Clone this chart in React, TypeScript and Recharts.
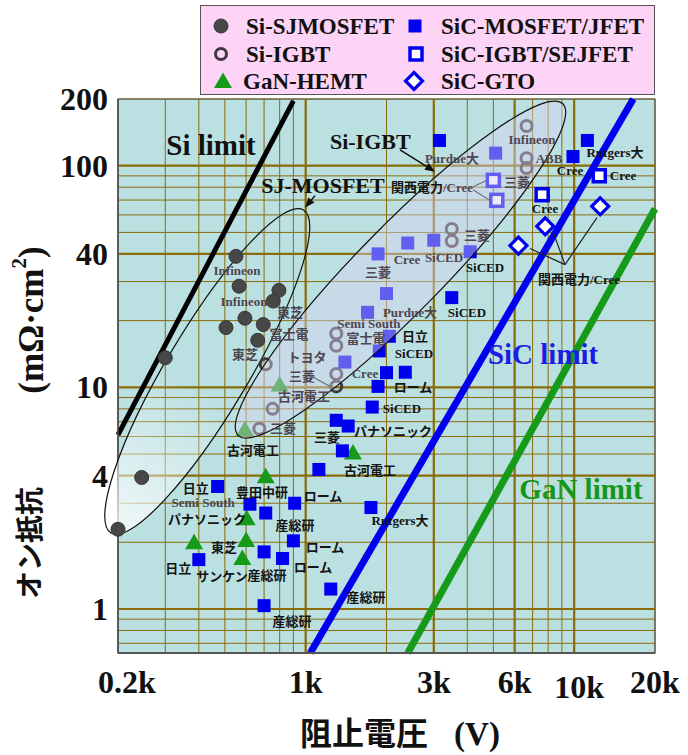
import {
  CartesianGrid,
  ReferenceArea,
  ReferenceDot,
  ReferenceLine,
  Scatter,
  ScatterChart,
  XAxis,
  YAxis,
} from "recharts";

// blocking voltage (V) vs. specific on-resistance (mΩ·cm²)
const siSjMosfet: [number, number][] = [
  [300, 13.6], [550, 39], [565, 28.6], [795, 27.4], [757, 24.5], [594, 20.5],
  [695, 19.2], [505, 18.6], [663, 16.3], [245, 3.92], [200, 2.29],
];

const siIgbt: [number, number][] = [
  [710, 12.7], [1300, 17.5], [1300, 15.4], [1300, 11.5], [1300, 10.1], [753, 8.0],
  [672, 6.5], [3500, 51.8], [3500, 45.7], [6650, 151], [6650, 108], [6650, 97.7],
];

const ganHemt: [number, number][] = [
  [800, 10.3], [594, 6.47], [1500, 5.08], [710, 3.97], [603, 2.57], [600, 2.05],
  [384, 2.0], [581, 1.7],
];

const sicMosfetJfet: [number, number][] = [
  [3150, 130], [5100, 114], [11200, 130], [9900, 110], [2400, 44.8], [3000, 46.1],
  [1860, 40], [4100, 40.9], [2000, 26.5], [3500, 25.4], [1700, 21.8], [2050, 17.0],
  [1880, 14.6], [1400, 13.0], [2000, 11.65], [2350, 11.7], [1860, 10.1], [1770, 8.15],
  [1300, 7.1], [1440, 6.69], [1370, 5.17], [1120, 4.26], [470, 3.57], [620, 2.97],
  [710, 2.71], [910, 3.0], [900, 2.03], [700, 1.81], [820, 1.69], [400, 1.67],
  [700, 1.035], [1750, 2.87], [1240, 1.23],
];

const sicIgbtSejfet: [number, number][] = [
  [5000, 85.9], [5150, 69.8], [7600, 74], [12400, 90.1],
];

const sicGto: [number, number][] = [[12500, 65.6], [7800, 53.3], [6200, 43.6]];

// material limit lines, two ends each
const siLimit: [number, number][] = [[200, 6.1], [900, 196]];
const sicLimit: [number, number][] = [[1040, 0.633], [16600, 200]];
const ganLimit: [number, number][] = [[2400, 0.633], [20000, 64]];

const xTickValues = [200, 1000, 3000, 6000, 10000, 20000];
const xTickLabels = ["0.2k", "1k", "3k", "6k", "10k", "20k"];
const xGridValues = [300, 400, 500, 600, 700, 800, 900, 2000, 4000, 5000, 7000, 8000, 9000];
const yTickValues = [1, 4, 10, 40, 100, 200];
const yTickLabels = ["1", "4", "10", "40", "100", "200"];
const yGridValues = [0.7, 0.8, 0.9, 2, 3, 5, 6, 7, 8, 9, 20, 30, 50, 60, 70, 80, 90];

// annotation text: [text, voltage, resistance, tone]
const pointLabels: [string, number, number, "dark" | "muted"][] = [
  ["Purdue大", 3508, 107.5, "muted"],
  ["三菱", 6124, 83.8, "muted"],
  ["Infineon", 6966, 131, "muted"],
  ["ABB", 8060, 107.5, "muted"],
  ["Cree", 9650, 94.9, "dark"],
  ["Rutgers大", 14190, 114.4, "dark"],
  ["Cree", 15200, 90.2, "dark"],
  ["Cree", 7788, 64.0, "dark"],
  ["関西電力/Cree", 10420, 30.7, "dark"],
  ["三菱", 4346, 48.4, "muted"],
  ["Cree", 2384, 37.7, "muted"],
  ["SiCED", 3276, 38.5, "muted"],
  ["SiCED", 4654, 34.7, "dark"],
  ["三菱", 1859, 33.0, "muted"],
  ["SiCED", 3988, 21.8, "dark"],
  ["Purdue大", 2446, 21.8, "muted"],
  ["Semi South", 1721, 19.4, "muted"],
  ["日立", 2554, 16.97, "dark"],
  ["富士電", 1677, 16.6, "muted"],
  ["SiCED", 2532, 14.2, "dark"],
  ["Cree", 1663, 11.56, "muted"],
  ["ローム", 2510, 10.0, "dark"],
  ["SiCED", 2284, 8.04, "dark"],
  ["パナソニック", 2114, 6.34, "dark"],
  ["三菱", 1201, 5.95, "dark"],
  ["古河電工", 1736, 4.23, "dark"],
  ["トヨタ", 1011, 13.65, "muted"],
  ["三菱", 969, 11.2, "muted"],
  ["古河電工", 986, 9.11, "muted"],
  ["三菱", 823, 6.54, "muted"],
  ["古河電工", 637, 5.2, "dark"],
  ["東芝", 874, 21.8, "muted"],
  ["富士電", 867, 17.3, "muted"],
  ["東芝", 594, 14.1, "muted"],
  ["Infineon", 555, 33.65, "muted"],
  ["Infineon", 589, 24.4, "muted"],
  ["Semi South", 415, 3.03, "muted"],
  ["日立", 390, 3.51, "dark"],
  ["豊田中研", 688, 3.37, "dark"],
  ["パナソニック", 429, 2.54, "dark"],
  ["ローム", 1160, 3.23, "dark"],
  ["産総研", 913, 2.39, "dark"],
  ["ローム", 1180, 1.9, "dark"],
  ["ローム", 1065, 1.546, "dark"],
  ["東芝", 496, 1.9, "dark"],
  ["日立", 335, 1.53, "dark"],
  ["サンケン", 488, 1.408, "dark"],
  ["産総研", 718, 1.42, "dark"],
  ["Rutgers大", 2246, 2.52, "dark"],
  ["産総研", 1677, 1.13, "dark"],
  ["産総研", 889, 0.874, "dark"],
];

const limitLabels: [string, number, number, string][] = [
  ["Si limit", 444, 124, "#111111"],
  ["SiC limit", 7660, 14.1, "#1c1ce6"],
  ["GaN limit", 10600, 3.47, "#16961b"],
];

const calloutLabels: [string, number, number][] = [
  ["Si-IGBT", 1740, 128],
  ["SJ-MOSFET", 1160, 81.3],
];

// [from V, from R, to V, to R]
const arrows: [number, number, number, number][] = [
  [2246, 118, 3032, 94],
  [1083, 73.3, 994, 64.7],
];

const leaders: [number, number, number, number][] = [
  [4200, 80.4, 4776, 86.5],
  [4200, 78.0, 4860, 69.6],
  [9244, 35.8, 6848, 42.3],
  [9244, 35.8, 8340, 50.4],
  [9244, 35.8, 12160, 58.3],
  [1065, 11.1, 1253, 10.0],
];

const SERIF = '"Liberation Serif", "Times New Roman", "Noto Sans CJK JP", serif';
const CJK = '"Noto Sans CJK JP", "Noto Sans CJK SC", sans-serif';
const GRID = "#8a6c08";
const BLUE = "#0000f0";
const GREEN = "#169a19";

const toPoints = (rows: [number, number][]) => rows.map(([v, r]) => ({ v, r }));

function SolidCircle({ cx, cy }: any) {
  return <circle cx={cx} cy={cy} r={7} fill="#474747" stroke="#383838" strokeWidth={1} />;
}

function RingCircle({ cx, cy }: any) {
  return <circle cx={cx} cy={cy} r={5.5} fill="none" stroke="#43373f" strokeWidth={3} />;
}

function Triangle({ cx, cy }: any) {
  return (
    <polygon
      points={`${cx},${cy - 8.5} ${cx + 9},${cy + 7} ${cx - 9},${cy + 7}`}
      fill={GREEN}
    />
  );
}

function SolidSquare({ cx, cy }: any) {
  return <rect x={cx - 6.5} y={cy - 6.5} width={13} height={13} fill={BLUE} />;
}

function OpenSquare({ cx, cy }: any) {
  return (
    <rect x={cx - 6} y={cy - 6} width={12} height={12} fill="#ffffff" stroke={BLUE} strokeWidth={3.5} />
  );
}

function Diamond({ cx, cy }: any) {
  return (
    <polygon
      points={`${cx},${cy - 8.5} ${cx + 8.5},${cy} ${cx},${cy + 8.5} ${cx - 8.5},${cy}`}
      fill="#ffffff"
      stroke={BLUE}
      strokeWidth={3.2}
    />
  );
}

function SjRegion({ cx, cy }: any) {
  return (
    <ellipse
      cx={cx}
      cy={cy}
      rx={188}
      ry={41}
      transform={`rotate(-59.2 ${cx} ${cy})`}
      fill="url(#sjFade)"
      stroke="#111"
      strokeWidth={1.2}
    />
  );
}

function IgbtRegion({ cx, cy }: any) {
  return (
    <ellipse
      cx={cx}
      cy={cy}
      rx={232}
      ry={43}
      transform={`rotate(-45.6 ${cx} ${cy})`}
      fill="#d6d2ee"
      fillOpacity={0.45}
      stroke="#111"
      strokeWidth={1.2}
    />
  );
}

function Arrow({ x1, y1, x2, y2 }: any) {
  const a = Math.atan2(y2 - y1, x2 - x1);
  const bx = x2 - 10 * Math.cos(a);
  const by = y2 - 10 * Math.sin(a);
  const px = -Math.sin(a) * 4;
  const py = Math.cos(a) * 4;
  return (
    <g>
      <line x1={x1} y1={y1} x2={bx} y2={by} stroke="#111" strokeWidth={1.5} />
      <polygon points={`${x2},${y2} ${bx + px},${by + py} ${bx - px},${by - py}`} fill="#111" />
    </g>
  );
}

function VoltageTick({ x, y, payload }: any) {
  const i = xTickValues.indexOf(payload.value);
  if (i < 0) return <g />;
  const shift = payload.value === 200 ? 9 : payload.value === 10000 ? 5 : 0;
  const drop = payload.value === 10000 ? 45 : 40;
  return (
    <text x={x + shift} y={y + drop} textAnchor="middle" fontFamily={SERIF} fontWeight="bold" fontSize={32} fill="#111">
      {xTickLabels[i]}
    </text>
  );
}

function ResistanceTick({ x, y, payload }: any) {
  const i = yTickValues.indexOf(payload.value);
  if (i < 0) return <g />;
  return (
    <text x={x - 10} y={y + 11} textAnchor="end" fontFamily={SERIF} fontWeight="bold" fontSize={32} fill="#111">
      {yTickLabels[i]}
    </text>
  );
}

function XTitle({ viewBox }: any) {
  const top = viewBox?.y ?? 653;
  return (
    <text x={400} y={top + 92} textAnchor="middle" fontWeight="bold" fill="#111">
      <tspan fontFamily={CJK} fontSize={32}>阻止電圧</tspan>
      <tspan fontFamily={SERIF} fontSize={33} dx={26}>(V)</tspan>
    </text>
  );
}

function YTitle() {
  return (
    <g fontWeight="bold" fill="#111">
      <text
        x={0}
        y={0}
        transform="translate(28 543) rotate(-90)"
        textAnchor="middle"
        dominantBaseline="central"
        fontFamily={CJK}
        fontSize={28}
      >
        オン抵抗
      </text>
      <text
        x={0}
        y={0}
        transform="translate(31 320) rotate(-90)"
        textAnchor="middle"
        dominantBaseline="central"
        fontFamily={SERIF}
        fontSize={35}
      >
        <tspan>(mΩ·cm</tspan>
        <tspan fontSize={21} dy={-12}>2</tspan>
        <tspan dy={12}>)</tspan>
      </text>
    </g>
  );
}

function LegendBox() {
  const rows = [20, 48, 75];
  return (
    <div
      style={{
        position: "absolute",
        left: 200,
        top: 5,
        width: 455,
        height: 90,
        background: "#fdd4f6",
        border: "1.5px solid #555",
        boxSizing: "border-box",
      }}
    >
      <svg width={452} height={87} style={{ display: "block" }}>
        <g fontFamily={SERIF} fontWeight="bold" fontSize={23} fill="#111">
          <SolidCircle cx={20} cy={rows[0]} />
          <text x={45} y={rows[0] + 8}>Si-SJMOSFET</text>
          <RingCircle cx={20} cy={rows[1]} />
          <text x={45} y={rows[1] + 8}>Si-IGBT</text>
          <Triangle cx={22} cy={rows[2]} />
          <text x={42} y={rows[2] + 8}>GaN-HEMT</text>
          <SolidSquare cx={214} cy={rows[0]} />
          <text x={240} y={rows[0] + 8}>SiC-MOSFET/JFET</text>
          <OpenSquare cx={215} cy={rows[1]} />
          <text x={240} y={rows[1] + 8}>SiC-IGBT/SEJFET</text>
          <Diamond cx={213} cy={rows[2]} />
          <text x={240} y={rows[2] + 8}>SiC-GTO</text>
        </g>
      </svg>
    </div>
  );
}

export default function App() {
  const xTicks = [...xTickValues, ...xGridValues].sort((a, b) => a - b);
  const yTicks = [...yTickValues, ...yGridValues].sort((a, b) => a - b);

  return (
    <div style={{ position: "relative", width: 688, height: 755 }}>
      <style>{"body{margin:0}"}</style>
      <ScatterChart
        width={688}
        height={755}
        margin={{ top: 99, right: 33, bottom: 42, left: 8 }}
      >
        <defs>
          <linearGradient id="sjFade" x1="0" y1="0" x2="1" y2="0">
            <stop offset="0%" stopColor="#ffffff" stopOpacity={0.8} />
            <stop offset="45%" stopColor="#ffffff" stopOpacity={0} />
          </linearGradient>
        </defs>

        <CartesianGrid stroke={GRID} strokeWidth={1} fill="#bbe0e2" fillOpacity={1} />

        <XAxis
          type="number"
          dataKey="v"
          scale="log"
          domain={[200, 20000]}
          ticks={xTicks}
          interval={0}
          height={60}
          tickSize={0}
          tickMargin={0}
          tickLine={false}
          axisLine={{ stroke: "#555", strokeWidth: 2 }}
          tick={<VoltageTick />}
          label={<XTitle />}
        />
        <YAxis
          type="number"
          dataKey="r"
          scale="log"
          domain={[0.633, 200]}
          ticks={yTicks}
          interval={0}
          width={110}
          tickSize={0}
          tickMargin={0}
          tickLine={false}
          axisLine={{ stroke: "#555", strokeWidth: 1.5 }}
          tick={<ResistanceTick />}
          label={<YTitle />}
        />

        {xTickValues.slice(1, -1).map((v) => (
          <ReferenceLine key={`gx${v}`} x={v} stroke={GRID} strokeWidth={2.2} />
        ))}
        {yTickValues.slice(0, -1).map((r) => (
          <ReferenceLine key={`gy${r}`} y={r} stroke={GRID} strokeWidth={2.2} />
        ))}

        <ReferenceDot x={430} y={11.8} ifOverflow="visible" shape={(p: any) => <SjRegion {...p} />} />

        <ReferenceLine
          segment={siLimit.map(([x, y]) => ({ x, y }))}
          stroke="#000"
          strokeWidth={5}
          ifOverflow="visible"
        />
        <ReferenceLine
          segment={sicLimit.map(([x, y]) => ({ x, y }))}
          stroke={BLUE}
          strokeWidth={7}
          ifOverflow="visible"
        />
        <ReferenceLine
          segment={ganLimit.map(([x, y]) => ({ x, y }))}
          stroke={GREEN}
          strokeWidth={7}
          ifOverflow="visible"
        />

        <Scatter data={toPoints(siSjMosfet)} shape={SolidCircle} isAnimationActive={false} />
        <Scatter data={toPoints(siIgbt)} shape={RingCircle} isAnimationActive={false} />
        <Scatter data={toPoints(ganHemt)} shape={Triangle} isAnimationActive={false} />
        <Scatter data={toPoints(sicMosfetJfet)} shape={SolidSquare} isAnimationActive={false} />
        <Scatter data={toPoints(sicIgbtSejfet)} shape={OpenSquare} isAnimationActive={false} />
        <Scatter data={toPoints(sicGto)} shape={Diamond} isAnimationActive={false} />

        <ReferenceDot x={2255} y={34} ifOverflow="visible" shape={(p: any) => <IgbtRegion {...p} />} />

        {leaders.map(([v1, r1, v2, r2], i) => (
          <ReferenceLine
            key={`ld${i}`}
            segment={[{ x: v1, y: r1 }, { x: v2, y: r2 }]}
            stroke="#222"
            strokeWidth={1.2}
            ifOverflow="visible"
          />
        ))}
        {arrows.map(([v1, r1, v2, r2], i) => (
          <ReferenceLine
            key={`ar${i}`}
            segment={[{ x: v1, y: r1 }, { x: v2, y: r2 }]}
            ifOverflow="visible"
            shape={(p: any) => <Arrow {...p} />}
          />
        ))}

        {pointLabels.map(([text, v, r, tone], i) => (
          <ReferenceDot
            key={`pl${i}`}
            x={v}
            y={r}
            ifOverflow="visible"
            shape={(p: any) => (
              <text
                x={p.cx}
                y={p.cy}
                textAnchor="middle"
                dominantBaseline="central"
                fontFamily={SERIF}
                fontWeight="bold"
                fontSize={13}
                fill={tone === "dark" ? "#141414" : "#4d4650"}
              >
                {text}
              </text>
            )}
          />
        ))}
        <ReferenceDot
          x={2954}
          y={80.4}
          ifOverflow="visible"
          shape={(p: any) => (
            <text x={p.cx} y={p.cy} textAnchor="middle" dominantBaseline="central" fontFamily={SERIF} fontWeight="bold" fontSize={13}>
              <tspan fill="#141414">関西電力</tspan>
              <tspan fill="#4d4650">/Cree</tspan>
            </text>
          )}
        />
        {calloutLabels.map(([text, v, r]) => (
          <ReferenceDot
            key={text}
            x={v}
            y={r}
            ifOverflow="visible"
            shape={(p: any) => (
              <text x={p.cx} y={p.cy} textAnchor="middle" dominantBaseline="central" fontFamily={SERIF} fontWeight="bold" fontSize={22} fill="#111">
                {text}
              </text>
            )}
          />
        ))}
        {limitLabels.map(([text, v, r, color]) => (
          <ReferenceDot
            key={text}
            x={v}
            y={r}
            ifOverflow="visible"
            shape={(p: any) => (
              <text x={p.cx} y={p.cy} textAnchor="middle" dominantBaseline="central" fontFamily={SERIF} fontWeight="bold" fontSize={29} fill={color}>
                {text}
              </text>
            )}
          />
        ))}

        <ReferenceArea x1={200} x2={20000} y1={0.633} y2={200} fill="none" stroke="#555" strokeWidth={1.2} ifOverflow="visible" />
      </ScatterChart>
      <LegendBox />
    </div>
  );
}
